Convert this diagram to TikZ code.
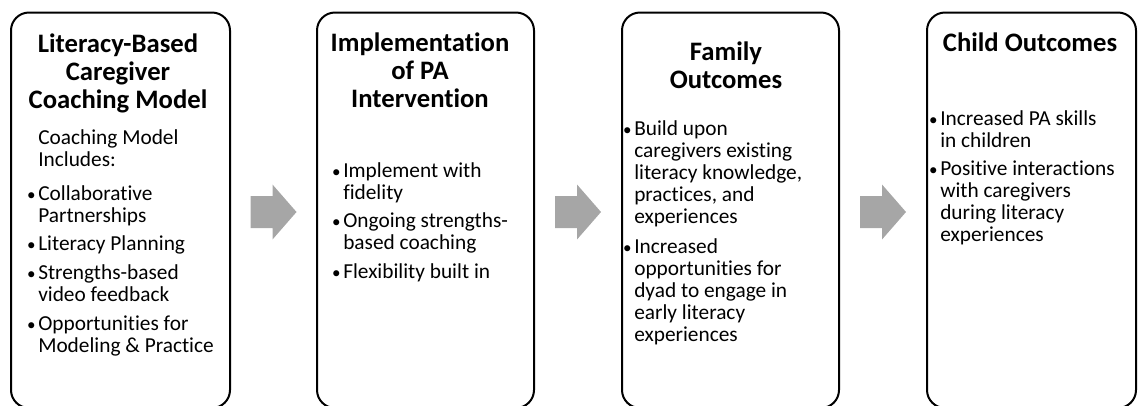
\documentclass[tikz,border=0pt]{standalone}
\usepackage{fontspec}
\setmainfont{Carlito}[Ligatures=NoCommon]
\usepackage{tikz}
\usetikzlibrary{calc}

\definecolor{arrowgray}{RGB}{166,166,166}
\newcommand{\bul}{\llap{\scalebox{0.8}{\textbullet}\hspace{2pt}}}

\begin{document}
\begin{tikzpicture}[x=0.75pt,y=-0.75pt]
  \tikzstyle{Panel}=[draw=black,line width=1.5pt,rounded corners=13.5pt,fill=white,minimum height=296.6pt,inner sep=0pt]
  \tikzstyle{Head}=[anchor=north,align=center,inner sep=0pt,font=\fontsize{20pt}{21pt}\selectfont\bfseries]
  \tikzstyle{Body}=[anchor=north west,align=left,inner sep=0pt,font=\fontsize{16pt}{16.5pt}\selectfont]
  \tikzstyle{ArrowFill}=[fill=arrowgray]

  \useasboundingbox (0,0) rectangle (1138,406);
  \clip (0,0) rectangle (1138,406);

  % the four panels
  \node[Panel,minimum width=164.25pt] (lbc) at (120.5,210.25) {};
  \node[Panel,minimum width=162.75pt] (impl) at (425.5,210.25) {};
  \node[Panel,minimum width=162.75pt] (fam) at (730.5,210.25) {};
  \node[Panel,minimum width=156.75pt] (child) at (1031.5,210.25) {};

  % block arrows between panels
  \coordinate (m1) at ($(lbc.east)!0.5!(impl.west)$);
  \coordinate (m2) at ($(impl.east)!0.5!(fam.west)$);
  \coordinate (m3) at ($(fam.east)!0.5!(child.west)$);
  \foreach \m in {m1,m2,m3}
    \fill[ArrowFill,shift={(\m)}] (-23,-14.25) -- (-1,-14.25) -- (-1,-25.75) -- (23,1.75)
      -- (-1,29.25) -- (-1,17.75) -- (-23,17.75) -- cycle;

  % headings
  \node[Head] (lbc-t) at (118,34) {Literacy-Based\\Caregiver\\Coaching Model};
  \node[Head] (impl-t) at (420,33) {Implementation\\of PA\\Intervention};
  \node[Head] (fam-t) at (726,42) {Family\\Outcomes};
  \node[Head] (child-t) at (1030,33) {Child Outcomes};

  % contents
  \node[Body] (lbc-b) at (38,129) {Coaching Model\\Includes:\\[9pt]
    \bul Collaborative\\Partnerships\\[5pt]
    \bul Literacy Planning\\[5pt]
    \bul Strengths-based\\video feedback\\[5pt]
    \bul Opportunities for\\Modeling \& Practice};
  \node[Body] (impl-b) at (343,162) {\bul Implement with\\fidelity\\[5pt]
    \bul Ongoing strengths-\\based coaching\\[5pt]
    \bul Flexibility built in};
  \node[Body] (fam-b) at (634,120) {\bul Build upon\\caregivers existing\\literacy knowledge,\\practices, and\\experiences\\[6pt]
    \bul Increased\\opportunities for\\dyad to engage in\\early literacy\\experiences};
  \node[Body] (child-b) at (940,110) {\bul Increased PA skills\\in children\\[5pt]
    \bul Positive interactions\\with caregivers\\during literacy\\experiences};
\end{tikzpicture}
\end{document}
